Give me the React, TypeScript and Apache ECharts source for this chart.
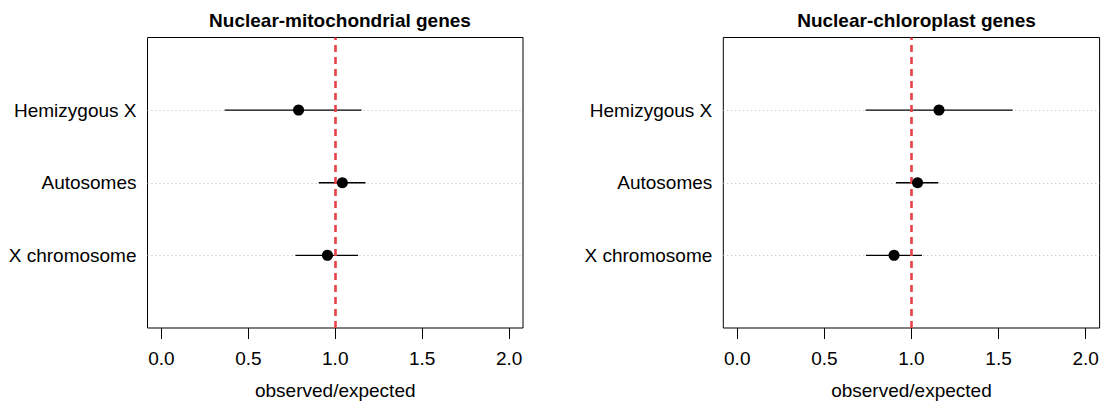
import React, { useEffect, useRef } from "react";
import * as echarts from "echarts";

const categories = ["X chromosome", "Autosomes", "Hemizygous X"];
const rowPositions = [1, 2, 3];
const xTicks = [0, 0.5, 1, 1.5, 2];

const mitoEstimate = [0.955, 1.041, 0.789];
const mitoLower = [0.771, 0.905, 0.364];
const mitoUpper = [1.131, 1.174, 1.151];

const chloroEstimate = [0.9, 1.035, 1.158];
const chloroLower = [0.739, 0.911, 0.737];
const chloroUpper = [1.06, 1.154, 1.581];

const titles = ["Nuclear-mitochondrial genes", "Nuclear-chloroplast genes"];
const referenceValue = 1;

const FONT = "'Liberation Sans', Arial, Helvetica, sans-serif";

export default function App() {
  const ref = useRef<HTMLDivElement>(null);
  useEffect(() => {
    if (!ref.current) return;
    const chart = echarts.init(ref.current, null, { renderer: "svg" });
    const grids = [
      { left: 147.5, right: 579, top: 37.5, bottom: 73 },
      { left: 723.3, right: 2.4, top: 37.5, bottom: 73 },
    ];
    const panels = [
      { est: mitoEstimate, lo: mitoLower, hi: mitoUpper },
      { est: chloroEstimate, lo: chloroLower, hi: chloroUpper },
    ];
    const xAxis = grids.map((_, i) => ({
      type: "value",
      gridIndex: i,
      min: -0.08,
      max: 2.08,
      axisLine: { show: false },
      splitLine: { show: false },
      axisTick: {
        show: true,
        inside: false,
        length: 11,
        customValues: xTicks,
        lineStyle: { color: "#000", width: 1 },
      },
      axisLabel: {
        customValues: xTicks,
        formatter: (v: number) => v.toFixed(1),
        fontSize: 19,
        fontFamily: FONT,
        color: "#000",
        margin: 21,
      },
      name: "observed/expected",
      nameLocation: "middle",
      nameGap: 53,
      nameTextStyle: { fontSize: 19, fontFamily: FONT, color: "#000" },
    }));
    const yAxis = grids.map((_, i) => ({
      type: "value",
      gridIndex: i,
      min: 0,
      max: 4,
      axisLine: { show: false },
      axisTick: { show: false },
      splitLine: { show: false },
      axisLabel: {
        customValues: rowPositions,
        formatter: (v: number) => categories[rowPositions.indexOf(v)] ?? "",
        fontSize: 19,
        fontFamily: FONT,
        color: "#000",
        margin: 11,
      },
    }));
    const series: any[] = [];
    panels.forEach((p, i) => {
      series.push({
        type: "line",
        xAxisIndex: i,
        yAxisIndex: i,
        z: 1,
        data: [],
        markLine: {
          silent: true,
          z: 1,
          symbol: ["none", "none"],
          label: { show: false },
          animation: false,
          lineStyle: { color: "#bdbdbd", width: 1, type: [1, 3] },
          data: rowPositions.map((r) => ({ yAxis: r })),
        },
      });
      series.push({
        type: "custom",
        xAxisIndex: i,
        yAxisIndex: i,
        z: 2,
        data: p.lo.map((lo, k) => [lo, p.hi[k], rowPositions[k]]),
        encode: { x: [0, 1], y: 2 },
        renderItem: (params: any, api: any) => {
          const a = api.coord([api.value(0), api.value(2)]);
          const b = api.coord([api.value(1), api.value(2)]);
          return {
            type: "line",
            shape: { x1: a[0], y1: a[1], x2: b[0], y2: b[1] },
            style: { stroke: "#000", lineWidth: 1.3 },
          };
        },
      });
      series.push({
        type: "scatter",
        xAxisIndex: i,
        yAxisIndex: i,
        z: 4,
        symbol: "circle",
        symbolSize: 11,
        itemStyle: { color: "#000", opacity: 1 },
        data: p.est.map((e, k) => [e, rowPositions[k]]),
      });
      series.push({
        type: "line",
        xAxisIndex: i,
        yAxisIndex: i,
        z: 3,
        data: [],
        markLine: {
          silent: true,
          z: 3,
          symbol: ["none", "none"],
          label: { show: false },
          animation: false,
          lineStyle: { color: "#e8414a", width: 2.6, type: [7, 5] },
          data: [{ xAxis: referenceValue }],
        },
      });
    });
    chart.setOption({
      animation: false,
      backgroundColor: "#fff",
      title: titles.map((t, i) => ({
        text: t,
        left: i === 0 ? 335 : 911.5,
        top: 6,
        textAlign: "center",
        textStyle: { fontSize: 19, fontWeight: "bold", fontFamily: FONT, color: "#000" },
      })),
      grid: grids.map((g) => ({
        ...g,
        show: true,
        outerBoundsMode: "none",
        containLabel: false,
        borderColor: "#000",
        borderWidth: 1,
        backgroundColor: "transparent",
      })),
      xAxis,
      yAxis,
      series,
    });
    return () => chart.dispose();
  }, []);
  return <div ref={ref} style={{ width: 1102, height: 401, position: "fixed", left: 0, top: 0 }} />;
}
